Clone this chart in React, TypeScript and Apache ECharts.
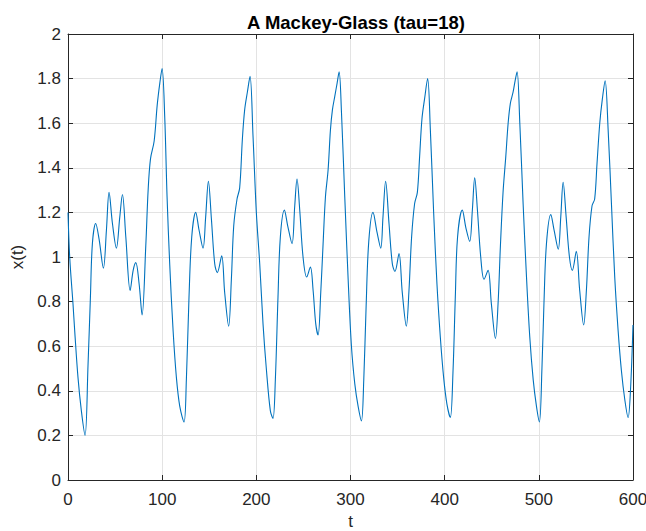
import React, { useEffect, useRef } from "react";
import * as echarts from "echarts";

const TITLE = "A Mackey-Glass (tau=18)";
const X_LABEL = "t";
const Y_LABEL = "x(t)";

const tValues: number[] = [
  0, 1.8, 5.3, 7.1, 10.6, 14.2, 18.1, 21.3, 23.8, 25.9, 29.4, 33, 37.6, 40.8, 43.6, 47.2, 51.4, 55, 57.8, 61.4,
  66, 69.2, 72, 75.5, 78.7, 82.6, 85.1, 87.6, 91.5, 94.7, 97.5, 99.9, 102.7, 105.2, 108, 111.6, 115.1, 118.7,
  123.2, 125.7, 128.5, 131.4, 135.6, 139.2, 143.4, 146.2, 149.1, 152.3, 155.8, 158.6, 163.2, 166.4, 170.6,
  173.5, 176, 179.5, 182.3, 185.2, 187.6, 190.5, 193.3, 196.5, 200, 203.6, 207.1, 210.6, 214.9, 217.7, 220.2,
  223, 225.5, 229.8, 233.3, 237.9, 240.8, 243.2, 246.1, 249.6, 253.5, 257.4, 260.3, 263.1, 265.6, 268.4, 270.9,
  273.4, 276.2, 278.7, 280.8, 283.3, 285.8, 287.9, 290.4, 293.9, 297.5, 301, 304.6, 308.1, 311.6, 314.1, 316.6,
  319.4, 323.9, 328.2, 332.1, 334.5, 337.3, 340.9, 344.4, 347.2, 351.5, 355, 359.3, 362.1, 364.9, 368.1, 371,
  373.4, 375.9, 378.7, 381.9, 384.8, 388.3, 391.8, 395.4, 398.9, 402.4, 406, 408.8, 411.3, 413.7, 418.7, 422.6,
  426.6, 429.4, 431.9, 434.8, 438.3, 441.8, 446.1, 449.6, 453.9, 456.7, 459.2, 462, 464.9, 467.4, 469.8, 472.7,
  474.8, 476.9, 479.8, 483.3, 486.9, 490.4, 494, 497.5, 500.6, 503.3, 505.5, 508.1, 512.7, 516.2, 520.6, 523.3,
  525.8, 529, 532.5, 535.6, 539.8, 543.4, 547.6, 550.5, 553.3, 556.5, 559.3, 561.8, 564.7, 567.5, 570.4, 573.6,
  577.1, 580.6, 584.2, 587.7, 591.3, 594.8, 597.3, 600,
];

const xValues: number[] = [
  1.2, 1.0, 0.79, 0.67, 0.46, 0.31, 0.2, 0.52, 0.82, 1.06, 1.15, 1.08, 0.95, 1.12, 1.29, 1.15, 1.04, 1.18, 1.28, 1.09,
  0.85, 0.94, 0.975, 0.88, 0.74, 1.05, 1.3, 1.44, 1.52, 1.68, 1.78, 1.845, 1.63, 1.27, 0.97, 0.67, 0.46, 0.33,
  0.26, 0.45, 0.82, 1.09, 1.2, 1.12, 1.04, 1.18, 1.34, 1.17, 0.97, 0.93, 1.005, 0.84, 0.69,
  0.9, 1.14, 1.26, 1.31, 1.53, 1.66, 1.74, 1.81, 1.54, 1.2, 0.97, 0.7, 0.5, 0.31, 0.276, 0.45,
  0.82, 1.09, 1.21, 1.14, 1.06, 1.23, 1.35, 1.21, 1.0, 0.91, 0.955, 0.85, 0.7, 0.65, 0.84, 1.06,
  1.27, 1.39, 1.57, 1.66, 1.72, 1.78, 1.83, 1.65, 1.27, 0.9, 0.6, 0.43, 0.33, 0.265, 0.45, 0.78,
  1.07, 1.2, 1.11, 1.04, 1.18, 1.34, 1.15, 0.97, 0.935, 1.015, 0.84, 0.69, 0.85, 1.09, 1.24, 1.29,
  1.45, 1.62, 1.71, 1.8, 1.57, 1.2, 0.88, 0.64, 0.46, 0.34, 0.28, 0.48, 0.82, 1.09, 1.21, 1.13,
  1.07, 1.21, 1.355, 1.21, 1.0, 0.9, 0.94, 0.79, 0.635, 0.79, 1.05, 1.29, 1.45, 1.6, 1.69, 1.74,
  1.79, 1.83, 1.6, 1.24, 0.91, 0.64, 0.45, 0.33, 0.26, 0.5, 0.8, 1.06, 1.19, 1.12, 1.035, 1.18,
  1.335, 1.18, 1.0, 0.94, 1.025, 0.85, 0.695, 0.85, 1.09, 1.23, 1.26, 1.42, 1.6, 1.71, 1.79, 1.57,
  1.24, 0.91, 0.67, 0.49, 0.36, 0.28, 0.4, 0.695,
];

const X_TICKS = [0, 100, 200, 300, 400, 500, 600];
const Y_TICKS = [0, 0.2, 0.4, 0.6, 0.8, 1, 1.2, 1.4, 1.6, 1.8, 2];

export default function App() {
  const ref = useRef<HTMLDivElement>(null);
  useEffect(() => {
    if (!ref.current) return;
    const chart = echarts.init(ref.current, undefined, { renderer: "svg" });
    const axisColor = "#262626";
    const font = "Liberation Sans, Arial, sans-serif";
    const data = tValues.map((t, i) => [t, xValues[i]]);
    chart.setOption({
      animation: false,
      backgroundColor: "#ffffff",
      title: {
        text: TITLE,
        left: 351,
        top: 8,
        textAlign: "center",
        textStyle: { fontFamily: font, fontSize: 18.5, fontWeight: "bold", color: "#000" },
      },
      grid: {
        left: 68,
        right: 13,
        top: 34,
        bottom: 51,
        containLabel: false,
        outerBoundsMode: "none",
      },
      xAxis: [
        {
          type: "value",
          min: X_TICKS[0],
          max: X_TICKS[X_TICKS.length - 1],
          interval: 100,
          name: X_LABEL,
          nameLocation: "middle",
          nameGap: 33,
          nameTextStyle: { fontFamily: font, fontSize: 17, color: axisColor },
          axisLine: { show: true, onZero: false, lineStyle: { color: axisColor, width: 1 } },
          axisTick: { show: true, inside: true, length: 5, lineStyle: { color: axisColor } },
          axisLabel: { fontFamily: font, fontSize: 17, color: axisColor, margin: 11 },
          splitLine: { show: true, lineStyle: { color: "#e3e3e3", width: 1 } },
        },
        {
          type: "value",
          position: "top",
          min: X_TICKS[0],
          max: X_TICKS[X_TICKS.length - 1],
          interval: 100,
          axisLine: { show: true, onZero: false, lineStyle: { color: axisColor, width: 1 } },
          axisTick: { show: true, inside: true, length: 5, lineStyle: { color: axisColor } },
          axisLabel: { show: false },
          splitLine: { show: false },
        },
      ],
      yAxis: [
        {
          type: "value",
          min: Y_TICKS[0],
          max: Y_TICKS[Y_TICKS.length - 1],
          interval: 0.2,
          name: Y_LABEL,
          nameLocation: "middle",
          nameGap: 37,
          nameTextStyle: { fontFamily: font, fontSize: 17, color: axisColor },
          axisLine: { show: true, onZero: false, lineStyle: { color: axisColor, width: 1 } },
          axisTick: { show: true, inside: true, length: 5, lineStyle: { color: axisColor } },
          axisLabel: { fontFamily: font, fontSize: 17, color: axisColor, margin: 7 },
          splitLine: { show: true, lineStyle: { color: "#e3e3e3", width: 1 } },
        },
        {
          type: "value",
          position: "right",
          min: Y_TICKS[0],
          max: Y_TICKS[Y_TICKS.length - 1],
          interval: 0.2,
          axisLine: { show: true, onZero: false, lineStyle: { color: axisColor, width: 1 } },
          axisTick: { show: true, inside: true, length: 5, lineStyle: { color: axisColor } },
          axisLabel: { show: false },
          splitLine: { show: false },
        },
      ],
      series: [
        {
          type: "line",
          data,
          xAxisIndex: 0,
          yAxisIndex: 0,
          smooth: 0.35,
          showSymbol: false,
          lineStyle: { color: "#0072BD", width: 1.1 },
        },
      ],
    });
    return () => chart.dispose();
  }, []);
  return (
    <div
      ref={ref}
      style={{ position: "fixed", left: 0, top: 0, width: 646, height: 531 }}
    />
  );
}
